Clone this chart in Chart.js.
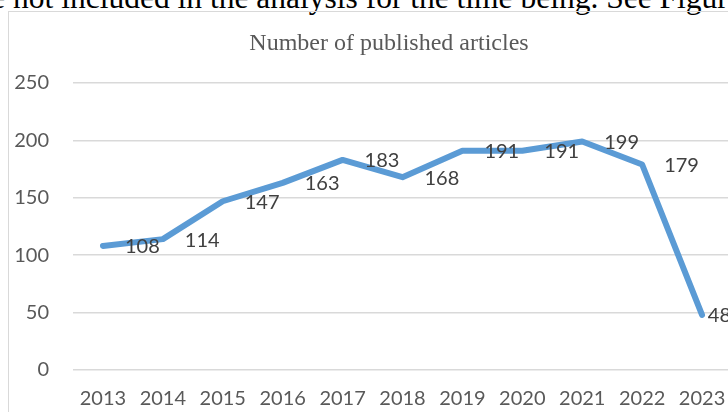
<!DOCTYPE html>
<html>
<head>
<meta charset="utf-8">
<script src="https://cdn.jsdelivr.net/npm/chart.js@4.4.1/dist/chart.umd.min.js"></script>
<style>
  html, body { margin: 0; padding: 0; width: 728px; height: 412px; overflow: hidden; background: #ffffff; }
  #frame { position: absolute; left: 8px; top: 11px; width: 800px; height: 500px;
           border-left: 1.5px solid #d9d9d9; border-top: 1.5px solid #d9d9d9; }
  #bodytext { position: absolute; left: -56px; top: -18px; white-space: nowrap;
              font-family: "Liberation Serif", "Times New Roman", serif; font-size: 31.5px; line-height: 1; color: #000; }
  #wrap { position: absolute; left: 0; top: 0; width: 760px; height: 412px; }
</style>
</head>
<body>
<div id="bodytext">were not included in the analysis for the time being. See Figure 2.</div>
<div id="frame"></div>
<div id="wrap"><canvas id="c" width="760" height="412"></canvas></div>
<script>
const categories = ["2013","2014","2015","2016","2017","2018","2019","2020","2021","2022","2023"];
const articles = [108, 114, 147, 163, 183, 168, 191, 191, 199, 179, 48];
const yTicks = [0, 50, 100, 150, 200, 250];
const chartTitle = "Number of published articles";

const tickFont = { family: "Lato, 'Open Sans', sans-serif", size: 20 };

const overlay = {
  id: 'overlay',
  afterDatasetsDraw(chart) {
    const ctx = chart.ctx;
    const meta = chart.getDatasetMeta(0);
    ctx.save();
    ctx.font = "20px Lato, 'Open Sans', sans-serif";
    ctx.fillStyle = "#404040";
    ctx.textBaseline = "middle";
    ctx.textAlign = "left";
    meta.data.forEach((pt, i) => {
      const txt = String(articles[i]);
      const w = ctx.measureText(txt).width;
      const lx = Math.min(pt.x + 22, 731 - w);
      ctx.fillText(txt, lx, pt.y + 1);
    });
    ctx.font = "24px 'Liberation Serif', 'Times New Roman', serif";
    ctx.fillStyle = "#595959";
    ctx.textAlign = "center";
    ctx.textBaseline = "alphabetic";
    ctx.fillText(chartTitle, 389, 50);
    ctx.restore();
  }
};

new Chart(document.getElementById('c'), {
  type: 'line',
  data: {
    labels: categories,
    datasets: [{
      data: articles,
      borderColor: '#5B9BD5',
      borderWidth: 6,
      pointRadius: 0,
      pointHoverRadius: 0,
      tension: 0,
      borderJoinStyle: 'round',
      borderCapStyle: 'round',
      fill: false
    }]
  },
  options: {
    responsive: false,
    animation: false,
    devicePixelRatio: 1,
    layout: { padding: { left: 0, top: 83, right: 28, bottom: 0 } },
    plugins: { legend: { display: false }, tooltip: { enabled: false }, title: { display: false } },
    scales: {
      x: {
        offset: true,
        grid: { display: false, drawTicks: false },
        border: { display: false },
        ticks: { color: '#595959', font: tickFont, padding: 17, maxRotation: 0, autoSkip: false },
        afterFit(scale) { scale.height = 42; }
      },
      y: {
        min: 0, max: 250,
        afterBuildTicks(scale) { scale.ticks = yTicks.map(v => ({ value: v })); },
        grid: { color: '#d9d9d9', lineWidth: 1.5, drawTicks: false },
        border: { display: false },
        ticks: { color: '#595959', font: tickFont, padding: 24 },
        afterFit(scale) { scale.width = 73; }
      }
    }
  },
  plugins: [overlay]
});
</script>
</body>
</html>
